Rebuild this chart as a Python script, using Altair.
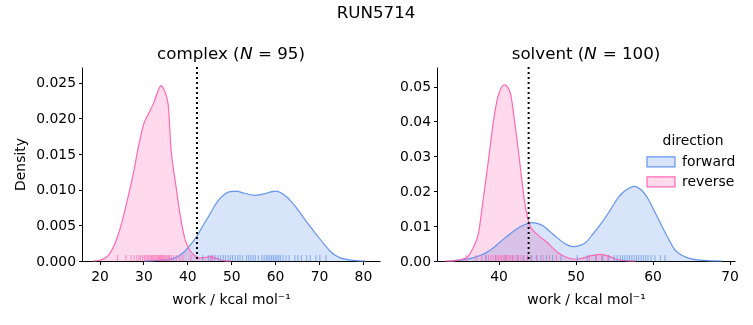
import altair as alt
import pandas as pd

# ---------------- data ----------------
directions = ["forward", "reverse"]
line_colors = ["#6495ED", "#FF69B4"]
fill_colors = ["#D8E4FA", "#FFD9EC"]   # the same hues at 25 % over white

# complex: KDE curves (work, density)
cx_fwd_x = [30.0, 33.0, 36.5, 38.0, 39.5, 41.0, 42.2, 43.5, 44.9, 46.0, 47.2, 48.4, 49.5, 51.0, 53.0,
            55.4, 57.5, 59.0, 60.3, 61.5, 62.6, 64.0, 65.3, 66.8, 68.3, 69.8, 71.4, 72.5, 73.7, 75.0,
            76.7, 78.5, 80.5]
cx_fwd_y = [0.0, 0.0001, 0.0003, 0.0007, 0.0014, 0.0025, 0.0035, 0.0049, 0.0063, 0.0075, 0.0086, 0.0093,
            0.0097, 0.0098, 0.0095, 0.0092, 0.0094, 0.0097, 0.0098, 0.0095, 0.0090, 0.0081, 0.0071, 0.0058,
            0.0046, 0.0034, 0.0022, 0.0014, 0.0008, 0.0004, 0.0002, 0.00005, 0.0]
cx_rev_x = [18.5, 20.0, 22.0, 23.6, 25.0, 25.8, 27.4, 28.9, 30.0, 31.2, 32.3, 33.3, 34.0, 34.7, 35.6,
            36.3, 37.3, 38.4, 39.5, 40.7, 41.8, 43.0, 44.2, 45.3, 46.5, 48.0, 50.0]
cx_rev_y = [0.0, 0.0001, 0.0008, 0.0026, 0.0052, 0.0072, 0.0114, 0.0161, 0.0191, 0.0207, 0.0221, 0.0238,
            0.0246, 0.0240, 0.0221, 0.0156, 0.0110, 0.0063, 0.0030, 0.0014, 0.0007, 0.0004, 0.0005, 0.0006,
            0.0004, 0.0001, 0.0]
cx_rug_fwd = [43.5, 44.8, 45.6, 46.3, 47.0, 47.6, 48.2, 48.7, 49.3, 49.8, 50.3, 50.9, 51.5, 52.0, 52.6,
              53.5, 54.0, 54.5, 55.0, 55.5, 56.2, 57.0, 57.5, 58.0, 58.4, 58.8, 59.2, 59.6, 60.0, 60.4,
              60.8, 61.2, 61.8, 62.5, 63.2, 64.5, 65.2, 66.0, 67.2, 68.0, 69.3, 70.2, 71.6]
cx_rug_rev = [24.1, 26.0, 27.2, 27.9, 28.5, 29.0, 29.3, 29.8, 30.2, 30.5, 30.9, 31.2, 31.5, 31.8, 32.0,
              32.3, 32.6, 32.9, 33.1, 33.4, 33.6, 33.8, 34.0, 34.2, 34.4, 34.6, 34.9, 35.1, 35.4, 35.7,
              36.0, 36.4, 36.9, 37.5, 38.3, 39.0, 40.8, 45.3, 45.8]
cx_vline = [42.2]

# solvent
sv_fwd_x = [33.5, 35.4, 37.0, 38.4, 39.5, 40.6, 41.5, 42.3, 43.3, 44.3, 45.0, 45.8, 46.7, 47.6, 48.6,
            49.7, 50.5, 51.3, 52.3, 53.4, 54.5, 55.6, 56.6, 57.6, 58.5, 59.5, 60.3, 60.8, 61.9, 62.9,
            64.3, 65.9, 67.6, 69.0]
sv_fwd_y = [0.0, 0.0003, 0.0011, 0.0024, 0.0041, 0.0062, 0.0078, 0.0091, 0.0103, 0.0110, 0.0108, 0.0100,
            0.0084, 0.0067, 0.0050, 0.0041, 0.0044, 0.0053, 0.0079, 0.0110, 0.0146, 0.0184, 0.0204, 0.0214,
            0.0204, 0.0175, 0.0140, 0.0118, 0.0070, 0.0032, 0.0011, 0.0003, 0.00005, 0.0]
sv_rev_x = [33.0, 34.5, 35.8, 36.7, 37.4, 38.0, 38.7, 39.3, 40.0, 40.8, 41.5, 42.1, 42.8, 43.4, 44.1,
            45.0, 46.3, 47.6, 48.9, 49.9, 51.0, 52.2, 53.2, 54.3, 55.3, 56.5, 57.8]
sv_rev_y = [0.0, 0.0002, 0.0009, 0.0038, 0.0081, 0.0177, 0.0292, 0.0397, 0.0478, 0.0505, 0.0483, 0.0397,
            0.0273, 0.0167, 0.0100, 0.0077, 0.0053, 0.0026, 0.0010, 0.0005, 0.0009, 0.0016, 0.0019, 0.0014,
            0.0005, 0.0001, 0.0]
sv_rug_fwd = [38.4, 39.6, 40.9, 41.8, 42.5, 43.2, 43.8, 44.3, 44.9, 45.5, 46.2, 47.0, 48.1, 50.2, 51.5,
              52.6, 53.5, 54.3, 55.0, 55.4, 55.8, 56.1, 56.4, 56.7, 57.0, 57.3, 57.6, 57.9, 58.2, 58.5,
              58.8, 59.1, 59.4, 59.8, 60.3, 61.0, 61.6]
sv_rug_rev = [35.8, 37.1, 37.8, 38.3, 38.7, 39.0, 39.3, 39.6, 39.8, 40.0, 40.2, 40.4, 40.6, 40.8, 41.0,
              41.2, 41.4, 41.6, 41.8, 42.0, 42.3, 42.6, 42.9, 43.3, 43.7, 44.2, 45.0, 45.8, 46.6, 47.5,
              51.8, 52.7, 53.4, 54.2]
sv_vline = [43.9]

cx_ticks = [20, 30, 40, 50, 60, 70, 80]
cx_yticks = [0.0, 0.005, 0.010, 0.015, 0.020, 0.025]
sv_ticks = [40, 50, 60, 70]
sv_yticks = [0.0, 0.01, 0.02, 0.03, 0.04, 0.05]

# ---------------- chart ----------------
FONT = "DejaVu Sans"
W, H = 298, 194
stroke_scale = alt.Scale(domain=directions, range=line_colors)
fill_scale = alt.Scale(domain=directions, range=fill_colors)
legend = alt.Legend(
    title="direction", orient="none", legendX=568, legendY=67,
    titleFont=FONT, labelFont=FONT, titleFontSize=13.9, labelFontSize=13.9,
    titleFontWeight="normal", titleColor="black", labelColor="black",
    symbolType="M-1.4,-0.5H1.4V0.5H-1.4Z", symbolSize=400, symbolStrokeWidth=1.2,
    labelOffset=10, rowPadding=1, titleAnchor="middle", titlePadding=3,
)


def panel(title, fx, fy, rx, ry, rug_f, rug_r, vline, xdom, ydom, xt, yt, yfmt, ytitle):
    dens = pd.DataFrame({
        "work": fx + rx,
        "density": fy + ry,
        "direction": ["forward"] * len(fx) + ["reverse"] * len(rx),
    })
    rug = pd.DataFrame({
        "work": rug_f + rug_r,
        "direction": ["forward"] * len(rug_f) + ["reverse"] * len(rug_r),
    })
    vl = pd.DataFrame({"work": vline})

    xenc = alt.X("work:Q", scale=alt.Scale(domain=xdom, nice=False, zero=False),
                 axis=alt.Axis(values=xt, title="work / kcal mol⁻¹", format="d"))
    yaxis = alt.Axis(values=yt, format=yfmt, title=ytitle) if ytitle else alt.Axis(values=yt, format=yfmt, title=None)
    yenc = alt.Y("density:Q", scale=alt.Scale(domain=ydom, nice=False), axis=yaxis, stack=None)
    area = alt.Chart(dens).mark_area(interpolate="monotone", blend="multiply").encode(
        x=xenc, y=yenc,
        fill=alt.Fill("direction:N", scale=fill_scale, legend=legend),
    )
    curve = alt.Chart(dens).mark_line(interpolate="monotone", strokeWidth=1.2).encode(
        x=xenc, y=yenc,
        stroke=alt.Stroke("direction:N", scale=stroke_scale, legend=legend),
    )
    rugs = alt.Chart(rug).mark_rule(strokeWidth=1, strokeOpacity=0.75).encode(
        x="work:Q",
        y=alt.value(H),
        y2=alt.value(H - 6),
        stroke=alt.Stroke("direction:N", scale=stroke_scale, legend=legend),
    )
    line = alt.Chart(vl).mark_rule(color="black", strokeWidth=2, strokeDash=[2, 3]).encode(x="work:Q")
    return alt.layer(area, curve, rugs, line).properties(
        width=W, height=H,
        title=alt.TitleParams(title, fontSize=16.7, font=FONT, fontWeight="normal", offset=3),
    )


left = panel("complex (𝘕 = 95)", cx_fwd_x, cx_fwd_y, cx_rev_x, cx_rev_y, cx_rug_fwd, cx_rug_rev, cx_vline,
             [16.0, 83.9], [0, 0.0272], cx_ticks, cx_yticks, ".3f", "Density")
right = panel("solvent (𝘕 = 100)", sv_fwd_x, sv_fwd_y, sv_rev_x, sv_rev_y, sv_rug_fwd, sv_rug_rev, sv_vline,
              [32.0, 70.7], [0, 0.0556], sv_ticks, sv_yticks, ".2f", None)

chart = alt.hconcat(left, right, spacing=19).resolve_scale(
    x="independent", y="independent", fill="shared", stroke="shared"
).properties(
    title=alt.TitleParams("RUN5714", fontSize=16.7, font=FONT, fontWeight="normal", anchor="middle", offset=25),
    padding={"left": 13, "top": 4, "right": 5, "bottom": 5},
).configure_view(stroke=None).configure_axis(
    labelFont=FONT, titleFont=FONT, labelFontSize=13.9, titleFontSize=13.9, labelColor="black",
    titleColor="black", titleFontWeight="normal", domainColor="black", tickColor="black", grid=False,
    tickSize=3.5, labelPadding=3, domainWidth=1, zindex=1,
).configure_axisY(titlePadding=8).configure_axisX(titlePadding=10, labelPadding=4.5).configure_title(color="black")

chart.save("out.html", embed_options={"renderer": "svg", "actions": False})
